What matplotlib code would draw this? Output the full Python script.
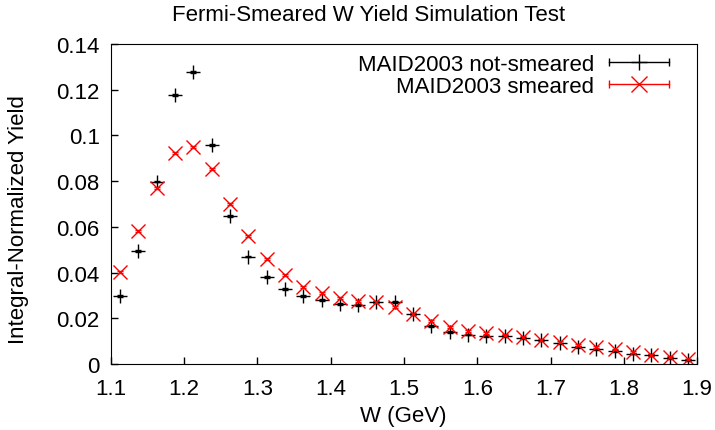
import matplotlib
matplotlib.use("Agg")
import matplotlib.pyplot as plt
import matplotlib.ticker
from matplotlib.lines import Line2D
from matplotlib.legend_handler import HandlerLine2D, HandlerTuple
import numpy as np

plt.rcParams['font.family'] = ['Liberation Sans', 'DejaVu Sans']

# bin centres (GeV)
w = [1.1125, 1.1375, 1.1625, 1.1875, 1.2125, 1.2375, 1.2625, 1.2875,
     1.3125, 1.3375, 1.3625, 1.3875, 1.4125, 1.4375, 1.4625, 1.4875,
     1.5125, 1.5375, 1.5625, 1.5875, 1.6125, 1.6375, 1.6625, 1.6875,
     1.7125, 1.7375, 1.7625, 1.7875, 1.8125, 1.8375, 1.8625, 1.8875]

not_smeared = [0.0298, 0.0496, 0.0798, 0.1178, 0.1276, 0.0958, 0.0646, 0.0470,
               0.0379, 0.0328, 0.0299, 0.0280, 0.0263, 0.0260, 0.0273, 0.0270,
               0.0219, 0.0165, 0.0139, 0.0129, 0.0122, 0.0122, 0.0114, 0.0103,
               0.0090, 0.0075, 0.0064, 0.0057, 0.0046, 0.0038, 0.0028, 0.0018]

smeared = [0.0402, 0.0580, 0.0770, 0.0923, 0.0949, 0.0853, 0.0701, 0.0561,
           0.0460, 0.0389, 0.0338, 0.0309, 0.0289, 0.0276, 0.0270, 0.0248,
           0.0219, 0.0190, 0.0162, 0.0144, 0.0137, 0.0129, 0.0117, 0.0107,
           0.0097, 0.0082, 0.0074, 0.0064, 0.0052, 0.0039, 0.0030, 0.0020]

err = 0.0004  # small statistical errors

fig = plt.figure(figsize=(7.15, 4.31), dpi=100)
ax = fig.add_axes([0.155, 0.153, 0.82, 0.743])

ax.errorbar(w, not_smeared, yerr=err, fmt='+', color='black', ms=10, mew=1.0,
            elinewidth=1.0, capsize=2, capthick=1.2)
ax.errorbar(w, smeared, yerr=err, fmt='x', color='red', ms=10, mew=1.0,
            elinewidth=1.0, capsize=2, capthick=1.2)

ax.set_xlim(1.1, 1.9)
ax.set_ylim(0, 0.14)
ax.xaxis.set_major_locator(matplotlib.ticker.MultipleLocator(0.1))
ax.yaxis.set_major_locator(matplotlib.ticker.MultipleLocator(0.02))
ax.yaxis.set_major_formatter(matplotlib.ticker.FuncFormatter(lambda v, p: f"{v:g}"))
ax.xaxis.set_major_formatter(matplotlib.ticker.FuncFormatter(lambda v, p: f"{v:.1f}"))
ax.tick_params(direction='in', length=5, width=1, labelsize=16)
ax.tick_params(axis='x', pad=10)
ax.tick_params(axis='y', pad=8)

# axis labels and title placed on the canvas like gnuplot does
fig.text(0.564, 0.033, "W (GeV)", fontsize=16, ha='center', va='center')
fig.text(0.026, 0.49, "Integral-Normalized Yield", fontsize=16, ha='center',
         va='center', rotation=90)
fig.text(0.515, 0.965, "Fermi-Smeared W Yield Simulation Test", fontsize=16,
         ha='center', va='center')

# gnuplot-style key: sample on the right, bar with end caps
caps_k = Line2D([], [], color='black', lw=1, marker='|', ms=6)
mark_k = Line2D([], [], color='black', ls='none', marker='+', ms=11)
caps_r = Line2D([], [], color='red', lw=1, marker='|', ms=6)
mark_r = Line2D([], [], color='red', ls='none', marker='x', ms=11)
ax.legend([(caps_k, mark_k), (caps_r, mark_r)],
          ["MAID2003 not-smeared", "MAID2003 smeared"],
          handler_map={caps_k: HandlerLine2D(numpoints=2),
                       caps_r: HandlerLine2D(numpoints=2),
                       tuple: HandlerTuple(ndivide=1)},
          loc='upper right', bbox_to_anchor=(0.993, 1.025),
          frameon=False, markerfirst=False, fontsize=16,
          handlelength=3.3, handletextpad=0.35, borderaxespad=0.5,
          labelspacing=0.05, borderpad=0.3)

fig.savefig("out.png", dpi=100)
